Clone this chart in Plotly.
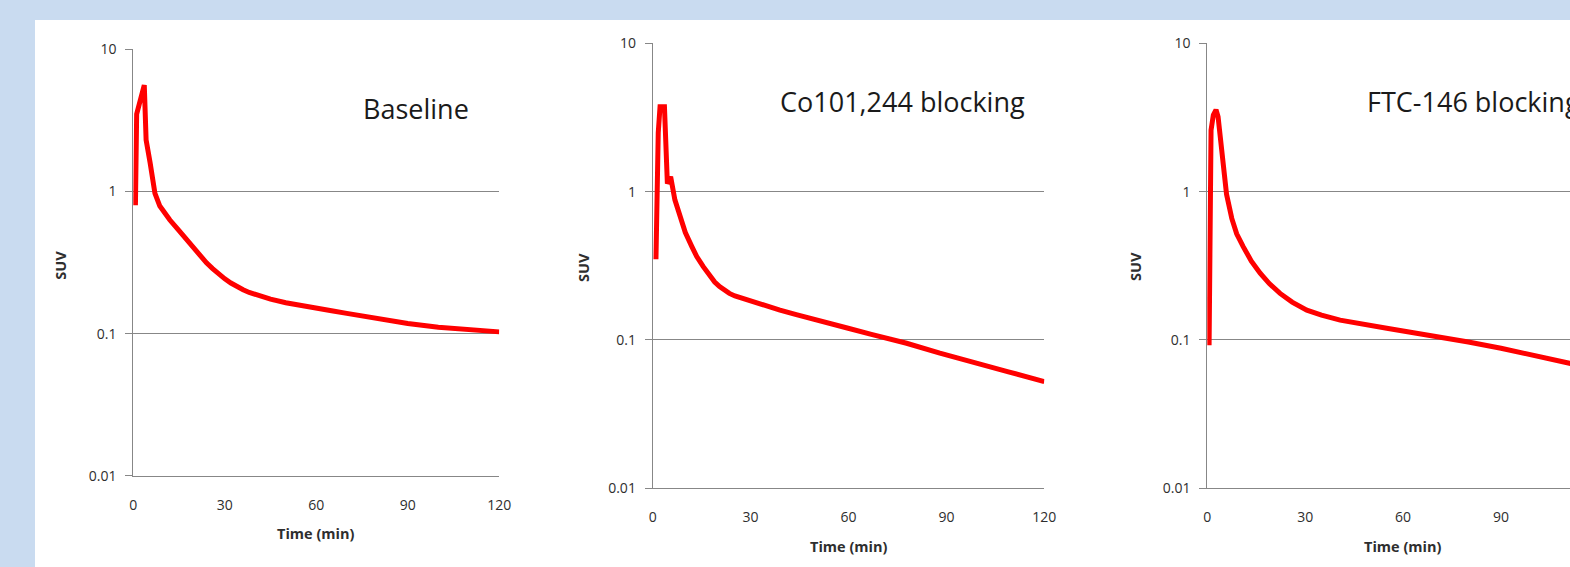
import plotly.graph_objects as go

# ---------------- data ----------------
tick_x = [0, 30, 60, 90, 120]
tick_y = [0.01, 0.1, 1, 10]
tick_y_text = ["0.01", "0.1", "1", "10"]

panel_titles = ["Baseline", "Co101,244 blocking", "FTC-146 blocking"]
x_title = "Time (min)"
y_title = "SUV"

baseline_t = [0.7, 1.1, 3.6, 4.2, 5.5, 7.1, 8.7, 10, 12, 15, 17.5, 20, 22, 24, 26, 28, 30,
              32, 34, 36, 38, 40, 45, 50, 55, 60, 65, 70, 75, 80, 90, 100, 110, 120]
baseline_suv = [0.80, 3.5, 5.6, 2.3, 1.6, 0.97, 0.79, 0.72, 0.63, 0.53, 0.457, 0.395, 0.352,
                0.315, 0.287, 0.263, 0.243, 0.227, 0.214, 0.204, 0.195, 0.188, 0.175, 0.165,
                0.157, 0.151, 0.145, 0.139, 0.133, 0.127, 0.118, 0.111, 0.106, 0.103]

co_t = [1.0, 1.3, 1.7, 2.25, 3.6, 4.5, 5.5, 6.8, 8.4, 10, 12, 13.5, 15.5, 17.6, 19, 20.5,
        22, 23.5, 25.2, 27, 28.8, 31, 34, 39, 44, 49.2, 54.5, 59.9, 67, 77.8, 88, 98.3,
        109, 120]
co_suv = [0.35, 0.75, 2.5, 3.74, 3.74, 1.13, 1.26, 0.88, 0.68, 0.53, 0.426, 0.365, 0.312,
          0.267, 0.246, 0.229, 0.216, 0.206, 0.198, 0.192, 0.186, 0.180, 0.172, 0.159,
          0.148, 0.139, 0.129, 0.120, 0.109, 0.095, 0.0815, 0.0712, 0.061, 0.0524]

ftc_t = [0.55, 0.9, 1.15, 1.85, 2.67, 3.3, 4.1, 4.9, 5.9, 7.5, 9, 11, 13.5, 16.2, 19, 22.3,
         26, 30.5, 35, 40.7, 46, 50, 55, 60, 70, 80, 90, 100, 111.2, 120]
ftc_suv = [0.092, 0.55, 2.6, 3.29, 3.56, 3.2, 2.23, 1.55, 0.96, 0.66, 0.52, 0.426, 0.34,
           0.282, 0.24, 0.206, 0.18, 0.159, 0.147, 0.136, 0.129, 0.125, 0.12, 0.115, 0.106,
           0.097, 0.088, 0.079, 0.0697, 0.063]

series = [(baseline_t, baseline_suv), (co_t, co_suv), (ftc_t, ftc_suv)]

# ---------------- layout geometry (pixels) ----------------
W, H = 1570, 567
boxes = [
    dict(l=133.3, r=499.3, t=49.3, b=475.9, xmax=120),
    dict(l=652.7, r=1044.3, t=43.3, b=488.3, xmax=120),
    dict(l=1207.3, r=1570.0, t=43.3, b=488.3, xmax=120 * (1570 - 1207.3) / (1598.9 - 1207.3)),
]
full_right = [499.3, 1044.3, 1598.9]
title_pos = [(360.7, 109.0), (777.5, 101.5), (1365.0, 101.5)]
suv_pos = [(60.7, 265.0), (582.9, 267.0), (1135.0, 267.0)]
time_y = [533.5, 546.5, 546.5]

GRID = "#878787"
TXT = "#2e2e2e"
FONT = "Open Sans, Calibri, Arial, sans-serif"


def fx(px):
    return px / W


def fy(py):
    return 1 - py / H


fig = go.Figure()
annotations = []
for i, ((t, v), bx) in enumerate(zip(series, boxes)):
    n = "" if i == 0 else str(i + 1)
    fig.add_trace(go.Scatter(x=t, y=v, mode="lines", xaxis="x" + n, yaxis="y" + n,
                             line=dict(color="#ff0000", width=5), showlegend=False,
                             hoverinfo="skip"))
    fig.layout["xaxis" + n] = dict(
        domain=[fx(bx["l"]), fx(bx["r"])], range=[0, bx["xmax"]], anchor="y" + n,
        tickmode="array", tickvals=tick_x, ticks="", showgrid=False, zeroline=False,
        showline=True, linecolor=GRID, linewidth=1, automargin=False,
        tickfont=dict(family=FONT, size=14, color=TXT), ticklabelstandoff=16,
        fixedrange=True)
    fig.layout["yaxis" + n] = dict(
        domain=[fy(bx["b"]), fy(bx["t"])], type="log", range=[-2, 1], anchor="x" + n,
        tickmode="array", tickvals=tick_y, ticktext=tick_y_text,
        ticks="outside", ticklen=7, tickcolor=GRID, tickwidth=1,
        showgrid=True, gridcolor=GRID, gridwidth=1, zeroline=False,
        showline=True, linecolor=GRID, linewidth=1, automargin=False,
        tickfont=dict(family=FONT, size=14, color=TXT), ticklabelstandoff=6,
        fixedrange=True)
    tx, ty = title_pos[i]
    annotations.append(dict(text=panel_titles[i], x=fx(tx), y=fy(ty), xref="paper",
                            yref="paper", xanchor="left", yanchor="middle", showarrow=False,
                            font=dict(family=FONT, size=27, color="#1a1a1a")))
    sx, sy = suv_pos[i]
    annotations.append(dict(text="<b>" + y_title + "</b>", x=fx(sx), y=fy(sy), xref="paper",
                            yref="paper", xanchor="center", yanchor="middle", textangle=-90,
                            showarrow=False, font=dict(family=FONT, size=14.5, color=TXT)))
    cx = (bx["l"] + full_right[i]) / 2
    annotations.append(dict(text="<b>" + x_title + "</b>", x=fx(cx), y=fy(time_y[i]),
                            xref="paper", yref="paper", xanchor="center", yanchor="middle",
                            showarrow=False, font=dict(family=FONT, size=14.5, color=TXT)))

fig.update_layout(
    width=W, height=H, autosize=False,
    margin=dict(l=0, r=0, t=0, b=0, pad=0, autoexpand=False),
    paper_bgcolor="#c9dbf0", plot_bgcolor="rgba(0,0,0,0)",
    annotations=annotations,
    shapes=[dict(type="rect", xref="paper", yref="paper", x0=fx(35), x1=1.0, y0=0,
                 y1=fy(20), fillcolor="white", line=dict(width=0), layer="below")],
)

fig.write_html(
    "out.html",
    config={"displayModeBar": False},
    post_script="document.body.style.margin='0px';document.body.style.overflow='hidden';",
)
